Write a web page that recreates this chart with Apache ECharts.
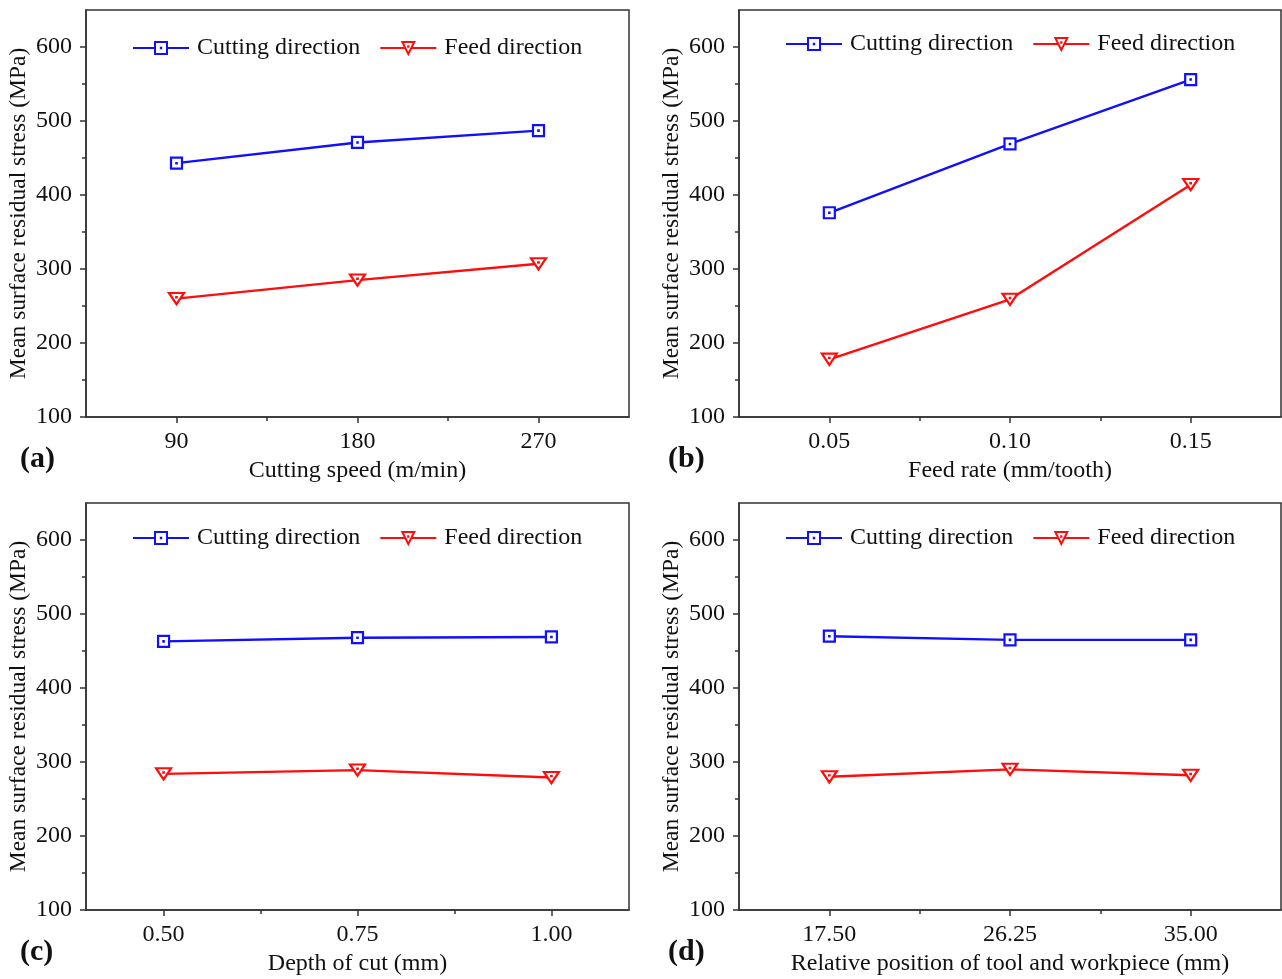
<!DOCTYPE html>
<html>
<head>
<meta charset="utf-8">
<script src="https://cdn.jsdelivr.net/npm/echarts@6/dist/echarts.min.js"></script>
<style>
  html, body { margin: 0; padding: 0; background: #fff; }
  #chart { width: 1282px; height: 979px; }
</style>
</head>
<body>
<div id="chart"></div>
<script>
// Mean surface residual stress (MPa) versus each machining parameter
const seriesNames = ['Cutting direction', 'Feed direction'];

const speedValues = [90, 180, 270];
const speedCutting = [443, 471, 487];
const speedFeed = [260, 285, 307];

const feedValues = [0.05, 0.10, 0.15];
const feedCutting = [376, 469, 556];
const feedFeed = [178, 259, 414];

const depthValues = [0.50, 0.75, 1.00];
const depthCutting = [463, 468, 469];
const depthFeed = [284, 289, 279];

const posValues = [17.50, 26.25, 35.00];
const posCutting = [470, 465, 465];
const posFeed = [280, 290, 282];

const stressMajorTicks = [100, 200, 300, 400, 500, 600];
const stressMinorTicks = [150, 250, 350, 450, 550];

const FONT = '"Liberation Serif", "Times New Roman", serif';
const INK = '#111';
const BLUE = '#1010ff';
const RED = '#ff0c0c';
const FS = 24;

// hollow square / down-triangle with a centre dot
const SQUARE = 'path://M0,0L11,0L11,11L0,11Z M5.3,5.3L5.7,5.3L5.7,5.7L5.3,5.7Z';
const TRIANGLE = 'path://M0,0L15,0L7.5,13Z M7.3,4.7L7.7,4.7L7.7,5.1L7.3,5.1Z';

const panels = [
  { tag: '(a)', xName: 'Cutting speed (m/min)', xs: speedValues, cut: speedCutting, feed: speedFeed,
    xMin: 45, xMax: 315, digits: 0,
    grid: { left: 86, top: 10, width: 543, height: 407 }, legendTop: 31 },
  { tag: '(b)', xName: 'Feed rate (mm/tooth)', xs: feedValues, cut: feedCutting, feed: feedFeed,
    xMin: 0.025, xMax: 0.175, digits: 2,
    grid: { left: 739, top: 10, width: 542, height: 407 }, legendTop: 27 },
  { tag: '(c)', xName: 'Depth of cut (mm)', xs: depthValues, cut: depthCutting, feed: depthFeed,
    xMin: 0.40, xMax: 1.10, digits: 2,
    grid: { left: 86, top: 503, width: 543, height: 407 }, legendTop: 521 },
  { tag: '(d)', xName: 'Relative position of tool and workpiece (mm)', xs: posValues, cut: posCutting, feed: posFeed,
    xMin: 13.125, xMax: 39.375, digits: 2,
    grid: { left: 739, top: 503, width: 542, height: 407 }, legendTop: 521 }
];

const option = {
  animation: false,
  backgroundColor: '#fff',
  textStyle: { fontFamily: FONT, color: INK },
  grid: [], xAxis: [], yAxis: [], series: [], legend: [], graphic: []
};

panels.forEach((p, i) => {
  const g = p.grid;
  option.grid.push(Object.assign({
    show: true, borderColor: '#333', borderWidth: 1.5, backgroundColor: 'transparent'
  }, g));

  const mid = [];
  for (let k = 0; k < p.xs.length - 1; k++) mid.push((p.xs[k] + p.xs[k + 1]) / 2);

  // main x axis: labelled ticks
  option.xAxis.push({
    type: 'value', gridIndex: i, min: p.xMin, max: p.xMax, position: 'bottom',
    name: p.xName, nameLocation: 'middle', nameGap: 42,
    nameTextStyle: { fontFamily: FONT, fontSize: FS, color: INK },
    axisLine: { show: true, onZero: false, lineStyle: { color: '#333', width: 1.5 } },
    axisTick: { show: true, inside: false, length: 6, customValues: p.xs, lineStyle: { color: '#333', width: 1.5 } },
    axisLabel: { show: true, margin: 13, customValues: p.xs, fontFamily: FONT, fontSize: FS, color: INK,
      formatter: v => Number(v).toFixed(p.digits) },
    splitLine: { show: false }
  });
  // minor x ticks
  option.xAxis.push({
    type: 'value', gridIndex: i, min: p.xMin, max: p.xMax, position: 'bottom',
    axisLine: { show: false, onZero: false },
    axisTick: { show: true, inside: false, length: 4, customValues: mid, lineStyle: { color: '#333', width: 1.5 } },
    axisLabel: { show: false },
    splitLine: { show: false }
  });

  option.yAxis.push({
    type: 'value', gridIndex: i, min: 100, max: 650, position: 'left',
    name: 'Mean surface residual stress (MPa)', nameLocation: 'middle', nameGap: 55,
    nameTextStyle: { fontFamily: FONT, fontSize: 23.5, color: INK },
    axisLine: { show: true, onZero: false, lineStyle: { color: '#333', width: 1.5 } },
    axisTick: { show: true, inside: false, length: 6, customValues: stressMajorTicks, lineStyle: { color: '#333', width: 1.5 } },
    axisLabel: { show: true, margin: 14, customValues: stressMajorTicks, fontFamily: FONT, fontSize: FS, color: INK },
    splitLine: { show: false }
  });
  option.yAxis.push({
    type: 'value', gridIndex: i, min: 100, max: 650, position: 'left',
    axisLine: { show: false, onZero: false },
    axisTick: { show: true, inside: false, length: 4, customValues: stressMinorTicks, lineStyle: { color: '#333', width: 1.5 } },
    axisLabel: { show: false },
    splitLine: { show: false }
  });

  option.series.push({
    name: seriesNames[0], type: 'line', xAxisIndex: i * 2, yAxisIndex: i * 2,
    data: p.xs.map((x, k) => [x, p.cut[k]]),
    symbol: SQUARE, symbolSize: 11, symbolKeepAspect: true,
    itemStyle: { color: '#fff', borderColor: BLUE, borderWidth: 2.2 },
    lineStyle: { color: BLUE, width: 2.4 },
    z: 3
  });
  option.series.push({
    name: seriesNames[1], type: 'line', xAxisIndex: i * 2, yAxisIndex: i * 2,
    data: p.xs.map((x, k) => [x, p.feed[k]]),
    symbol: TRIANGLE, symbolSize: [15, 13], symbolKeepAspect: true,
    itemStyle: { color: '#fff', borderColor: RED, borderWidth: 2.2 },
    lineStyle: { color: RED, width: 2.4 },
    z: 3
  });

  option.legend.push({
    top: p.legendTop,
    left: g.left,
    itemWidth: 56, itemHeight: 15, itemGap: 19,
    textStyle: { fontFamily: FONT, fontSize: FS, color: INK, padding: [0, 0, 0, 3] },
    data: seriesNames,
    selectedMode: false
  });

  option.graphic.push({
    type: 'text', left: i % 2 === 0 ? 20 : 668, top: g.top + g.height + 27,
    style: { text: p.tag, font: 'bold 30px ' + FONT, fill: '#111' }
  });
});

const chart = echarts.init(document.getElementById('chart'), null, { renderer: 'canvas' });
chart.setOption(option);

// centre each legend over its plot area
const updates = [];
chart.getModel().eachComponent('legend', (lm, idx) => {
  const g = panels[idx].grid;
  const rect = chart.getViewOfComponentModel(lm).group.getBoundingRect();
  updates.push({ left: Math.round(g.left + g.width / 2 - rect.width / 2) });
});
chart.setOption({ legend: updates });
</script>
</body>
</html>
